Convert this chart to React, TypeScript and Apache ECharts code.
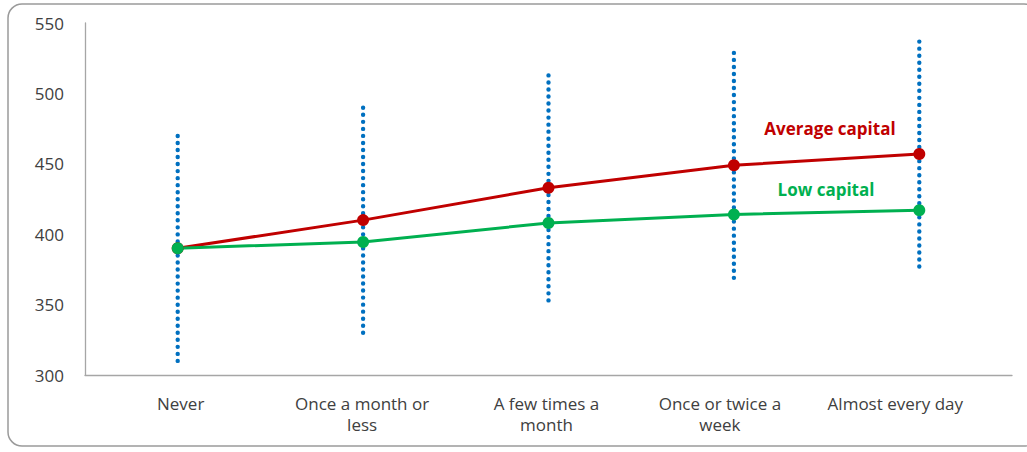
import React, { useEffect, useRef } from "react";
import * as echarts from "echarts";

const categories = [
  "Never",
  "Once a month or\nless",
  "A few times a\nmonth",
  "Once or twice a\nweek",
  "Almost every day",
];
const averageCapital = [390, 410, 433, 449, 457];
const lowCapital = [390, 394.5, 408, 414, 417];
const rangeLow = [310, 330, 353, 369, 377];
const rangeHigh = [470, 490, 513, 529, 537];
const yTicks = { min: 300, max: 550, interval: 50 };
// horizontal nudge (px, leftwards) of each category label, as rendered in the original
const labelShift = [-6, 2, 4, 28, 48];

const FONT = "'Open Sans', 'Noto Sans', sans-serif";

export default function App() {
  const ref = useRef<HTMLDivElement>(null);
  useEffect(() => {
    if (!ref.current) return;
    const chart = echarts.init(ref.current, undefined, { renderer: "svg" });
    const rangeData = categories.map((_, i) => [i, rangeLow[i], rangeHigh[i]]);
    const catData = categories.map((c, i) => ({
      value: c,
      textStyle: {
        padding: labelShift[i] >= 0 ? [0, labelShift[i], 0, 0] : [0, 0, 0, -labelShift[i]],
      },
    }));
    chart.setOption({
      animation: false,
      backgroundColor: "#ffffff",
      textStyle: { fontFamily: FONT },
      grid: { left: 85, right: 15, top: 23, bottom: 77, containLabel: false },
      xAxis: {
        type: "category",
        data: catData,
        boundaryGap: true,
        axisLine: { lineStyle: { color: "#a6a6a6", width: 1.3 } },
        axisTick: { show: false },
        axisLabel: {
          interval: 0,
          fontSize: 17,
          color: "#404040",
          lineHeight: 21,
          margin: 18,
          fontFamily: FONT,
        },
        splitLine: { show: false },
      },
      yAxis: {
        type: "value",
        min: yTicks.min,
        max: yTicks.max,
        interval: yTicks.interval,
        axisLine: { show: true, lineStyle: { color: "#a6a6a6", width: 1.3 } },
        axisTick: { show: false },
        axisLabel: { fontSize: 17, color: "#404040", margin: 21, fontFamily: FONT },
        splitLine: { show: false },
      },
      series: [
        {
          type: "custom",
          name: "Range",
          z: 1,
          data: rangeData,
          renderItem: (params: any, api: any) => {
            const x = api.value(0);
            const p1 = api.coord([x, api.value(1)]);
            const p2 = api.coord([x, api.value(2)]);
            return {
              type: "line",
              shape: { x1: p1[0], y1: p1[1], x2: p2[0], y2: p2[1] },
              style: {
                stroke: "#0070C0",
                lineWidth: 4.4,
                lineCap: "round",
                lineDash: [0.01, 7.02],
              },
            };
          },
        },
        {
          type: "line",
          name: "Average capital",
          z: 3,
          data: averageCapital,
          symbol: "circle",
          symbolSize: 12,
          lineStyle: { color: "#C00000", width: 3 },
          itemStyle: { color: "#C00000" },
        },
        {
          type: "line",
          name: "Low capital",
          z: 3,
          data: lowCapital,
          symbol: "circle",
          symbolSize: 12,
          lineStyle: { color: "#00B050", width: 3 },
          itemStyle: { color: "#00B050" },
        },
      ],
      graphic: [
        {
          type: "rect",
          shape: { x: 8, y: 4, width: 1030, height: 442, r: 14 },
          style: { fill: "none", stroke: "#9a9a9a", lineWidth: 1.5 },
          silent: true,
          z: -1,
        },
        {
          type: "text",
          x: 830,
          y: 128,
          style: {
            text: "Average capital",
            fill: "#C00000",
            font: `bold 17px ${FONT}`,
            textAlign: "center",
            textVerticalAlign: "middle",
          },
        },
        {
          type: "text",
          x: 826,
          y: 189,
          style: {
            text: "Low capital",
            fill: "#00B050",
            font: `bold 17px ${FONT}`,
            textAlign: "center",
            textVerticalAlign: "middle",
          },
        },
      ],
    });
    return () => chart.dispose();
  }, []);
  return (
    <div
      ref={ref}
      style={{ position: "fixed", left: 0, top: 0, width: 1027, height: 452 }}
    />
  );
}
